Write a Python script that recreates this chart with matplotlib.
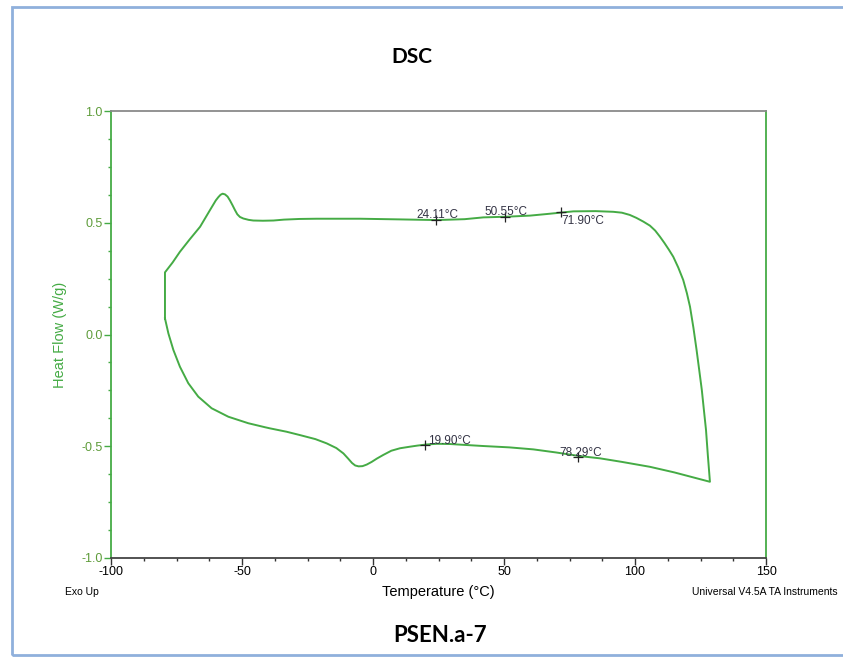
import matplotlib.pyplot as plt
import numpy as np
from matplotlib.ticker import MultipleLocator
from matplotlib.patches import Rectangle

# DSC loop, traced in drawing order (heating top branch, then cooling bottom branch)
temp = [-79.4, -79.4, -76.5, -73.7, -70.0, -66.0, -62.2, -60.0, -59.0, -58.2,
        -57.4, -56.5, -55.5, -54.6, -53.6, -52.7, -51.8, -50.8, -49.5, -47.5,
        -45.7, -42.0, -38.0, -34.0, -28.0, -21.5, -5.0, 10.3, 24.3, 35.0,
        42.1, 51.0, 60.0, 66.3, 72.3, 76.5, 85.0, 91.7, 95.0, 98.0,
        100.5, 103.2, 105.7, 107.7, 109.5, 111.2, 112.9, 114.6, 116.5, 118.4,
        119.8, 121.0, 122.3, 123.5, 124.5, 125.5, 126.3, 127.1, 127.8, 128.6,
        115.0, 105.7, 95.0, 86.6, 78.9, 70.0, 61.2, 52.0, 42.1, 35.0,
        29.4, 24.5, 20.5, 17.0, 14.1, 10.3, 7.0, 3.9, 1.5, -0.5,
        -2.4, -4.0, -5.5, -6.8, -8.0, -9.5, -11.3, -14.0, -17.7, -22.0,
        -27.9, -33.0, -39.3, -41.2, -47.6, -55.2, -61.6, -66.7, -70.5, -73.7,
        -76.2, -78.1, -79.4]
heat_flow = [0.072, 0.278, 0.322, 0.370, 0.425, 0.482, 0.557, 0.600, 0.615, 0.625,
             0.630, 0.627, 0.617, 0.600, 0.578, 0.557, 0.538, 0.526, 0.519, 0.513,
             0.510, 0.509, 0.510, 0.514, 0.517, 0.518, 0.518, 0.515, 0.512, 0.516,
             0.524, 0.527, 0.532, 0.539, 0.546, 0.551, 0.552, 0.549, 0.545, 0.535,
             0.522, 0.505, 0.487, 0.465, 0.438, 0.410, 0.380, 0.348, 0.300, 0.244,
             0.185, 0.124, 0.030, -0.069, -0.158, -0.248, -0.338, -0.427, -0.540, -0.659,
             -0.617, -0.592, -0.570, -0.554, -0.544, -0.528, -0.514, -0.505, -0.499, -0.494,
             -0.490, -0.489, -0.492, -0.497, -0.502, -0.509, -0.520, -0.539, -0.555, -0.570,
             -0.582, -0.589, -0.590, -0.586, -0.575, -0.555, -0.532, -0.508, -0.487, -0.468,
             -0.450, -0.435, -0.420, -0.415, -0.397, -0.368, -0.330, -0.278, -0.218, -0.144,
             -0.069, 0.005, 0.072]

# onset / peak markers
mark_temp = [24.11, 50.55, 71.90, 19.90, 78.29]
mark_flow = [0.512, 0.527, 0.546, -0.494, -0.547]
mark_text = ["24.11°C", "50.55°C", "71.90°C", "19.90°C", "78.29°C"]
label_offsets = [(-20, 5), (-21, 5), (0, -9), (3, 4), (-19, 4)]

xticks = [-100, -50, 0, 50, 100, 150]
yticks = [-1.0, -0.5, 0.0, 0.5, 1.0]

plt.rcParams['font.family'] = ['Liberation Sans Narrow', 'Liberation Sans', 'DejaVu Sans']

green = '#45ab45'
label_green = '#5e9c3a'

fig = plt.figure(figsize=(8.43, 6.58), dpi=100)
ax = fig.add_axes([111 / 843, 100 / 658, 655 / 843, 447 / 658])

ax.plot(temp, heat_flow, color=green, lw=1.4)
ax.plot(mark_temp, mark_flow, '+', color='#222222', ms=7, mew=0.9)
for t, f, s, off in zip(mark_temp, mark_flow, mark_text, label_offsets):
    ax.annotate(s, (t, f), xytext=off, textcoords='offset pixels',
                fontsize=8.5, color='#333344', va='center', ha='left')

ax.set_xlim(-100, 150)
ax.set_ylim(-1.0, 1.0)
ax.set_xticks(xticks)
ax.set_yticks(yticks)
ax.set_xticklabels([f"{v:g}" for v in xticks])
ax.set_yticklabels([f"{v:.1f}" for v in yticks])
ax.xaxis.set_minor_locator(MultipleLocator(12.5))
ax.yaxis.set_minor_locator(MultipleLocator(0.125))

ax.tick_params(axis='x', which='major', direction='out', length=5, width=1,
               color='#333333', labelsize=9, labelcolor='black', pad=1)
ax.tick_params(axis='x', which='minor', direction='out', length=2.5, width=1, color='#333333')
ax.tick_params(axis='y', which='major', direction='out', length=5, width=1,
               color=green, labelsize=9, labelcolor=label_green, pad=1)
ax.tick_params(axis='y', which='minor', direction='out', length=2, width=1, color=green)

ax.spines['left'].set_color(green)
ax.spines['right'].set_color(green)
ax.spines['top'].set_color('#8a8a8a')
ax.spines['bottom'].set_color('#444444')
for sp in ax.spines.values():
    sp.set_linewidth(1.3)

ax.set_xlabel("Temperature (°C)", fontsize=10.5, labelpad=5)
ax.set_ylabel("Heat Flow (W/g)", fontsize=10.5, color=green, labelpad=10)

fig.text(412 / 843, 1 - 57 / 658, "DSC", fontsize=15, fontweight='bold',
         family=['Lato', 'DejaVu Sans'], ha='center', va='center')
fig.text(440 / 843, 1 - 636 / 658, "PSEN.a-7", fontsize=16, fontweight='bold',
         family=['Lato', 'DejaVu Sans'], ha='center', va='center')
fig.text(65 / 843, 1 - 592 / 658, "Exo Up", fontsize=7.5, ha='left', va='center')
fig.text(838 / 843, 1 - 592 / 658, "Universal V4.5A TA Instruments", fontsize=7.5,
         ha='right', va='center')

# outer frame of the pasted picture
fig.add_artist(Rectangle((11.5 / 843, 3 / 658), 840 / 843, 648 / 658,
                         transform=fig.transFigure, fill=False,
                         edgecolor='#8fb0dc', lw=2))

fig.savefig("out.png", dpi=100)
